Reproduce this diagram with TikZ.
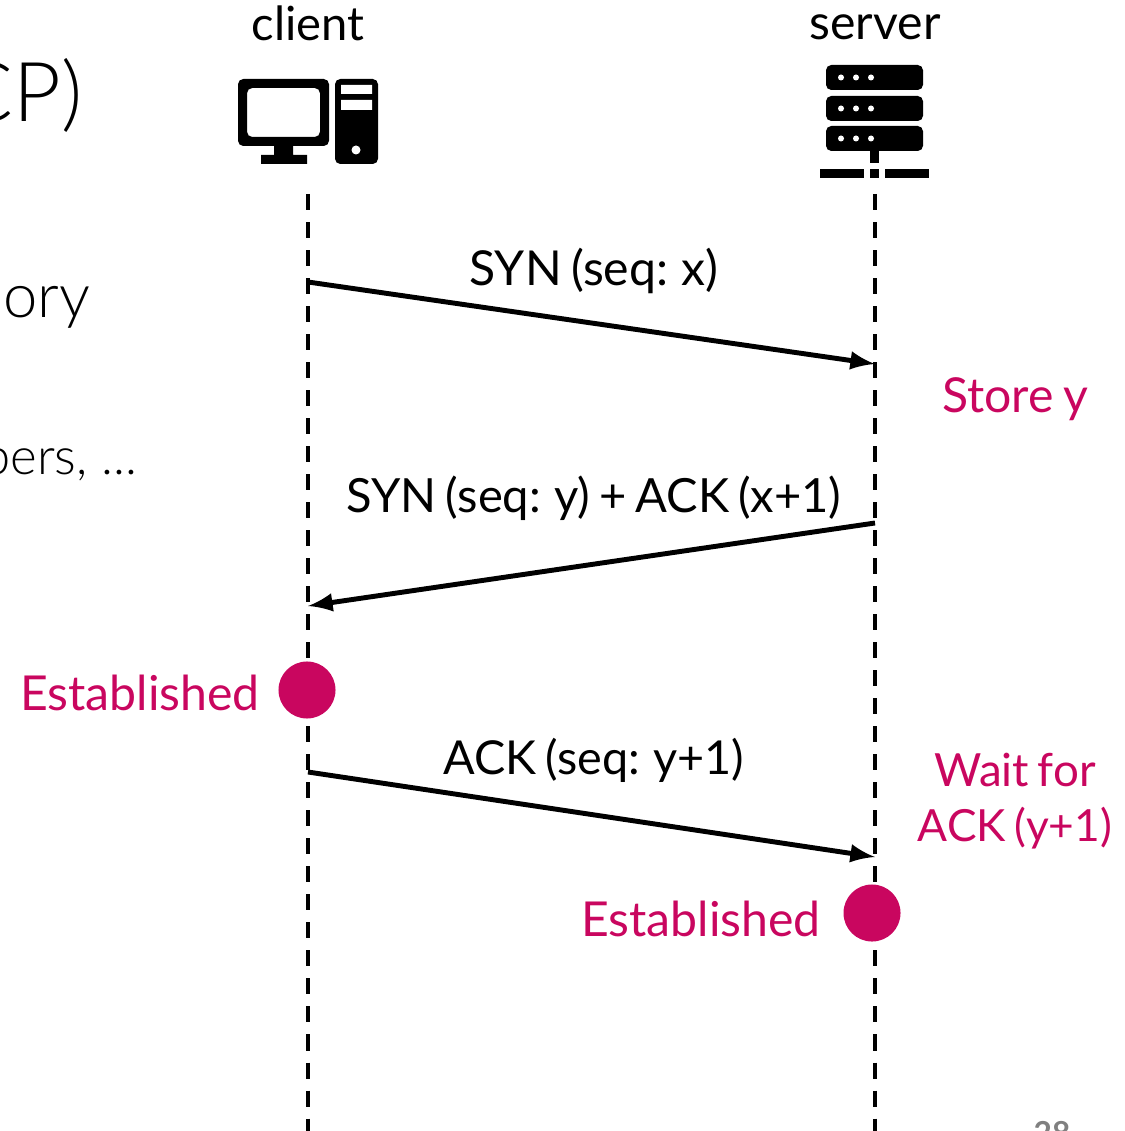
\documentclass[tikz,border=0pt]{standalone}
\usepackage{fontspec}
\setmainfont{Lato}[WordSpace=0.75]
\newfontfamily\lightfont{Lato Light}
\usetikzlibrary{arrows}
\usepackage{xcolor}
\definecolor{estpink}{HTML}{C9065F}
\newcommand{\lblsize}[1]{\fontsize{#1}{16}\selectfont}
\tikzset{
 lbl/.style={inner sep=0,anchor=base,font=\lblsize{13.7}},
 pinklbl/.style={lbl,text=estpink},
 slide/.style={inner sep=0,anchor=base east},
 lifeline/.style={black,line width=.04cm,dash pattern=on .16cm off .12cm},
 msg/.style={black,line width=1.4pt,-latex},
 dot/.style={circle,fill=estpink,minimum size=.57cm,inner sep=0},
}
\begin{document}
\begin{tikzpicture}[x=.01cm,y=-.01cm]
\clip (0,0) rectangle (1124,1131);
% cut off slide text
\node[slide,font=\lightfont\fontsize{23.5}{25}\selectfont] (title) at (83,122) {(TCP)};
\node[slide,font=\lightfont\fontsize{17.5}{19}\selectfont] (memory) at (91,318) {memory};
\node[slide,font=\lightfont\fontsize{14.5}{17}\selectfont] (numbers) at (138,475) {numbers, ...};
\node[inner sep=0,anchor=base,text=black!50,font=\bfseries\fontsize{9}{11}\selectfont] (page) at (1052,1144) {28};
% hosts
\node[lbl,font=\lblsize{13.4}] (client) at (308,41) {client};
\node[lbl] (server) at (875,40) {server};
% client icon
\fill[even odd rule,rounded corners=1.5pt] (238,79) rectangle (329,146) (247,88) rectangle (320,137);
\fill (274,146) rectangle (293,155) (261,155) rectangle (307,164);
\fill[rounded corners=1.5pt] (335,79) rectangle (378,164);
\fill[white] (341,85) rectangle (372,94) (341,100) rectangle (372,110);
\fill[white] (356,150) circle (4.5);
% server icon
\foreach \y in {65,96,126} {
 \fill[rounded corners=1.5pt] (826,\y) rectangle (923,\y+25);
 \foreach \x in {841,856,871} \fill[white] (\x,\y+12.5) circle (3);
 }
\fill (870,151) rectangle (879,163);
\foreach \x/\w in {820/44,870/9,885/44} \fill (\x,169) rectangle ++(\w,9);
% timelines
\coordinate (ctop) at (308,194);
\coordinate (cbot) at (308,1131);
\coordinate (stop) at (875,194);
\coordinate (sbot) at (875,1131);
\draw[lifeline] (ctop)--(cbot);
\draw[lifeline] (stop)--(sbot);
% messages
\coordinate (m1a) at (308,282);
\coordinate (m1b) at (875,364);
\coordinate (m2a) at (875,523);
\coordinate (m2b) at (308,606);
\coordinate (m3a) at (308,772);
\coordinate (m3b) at (875,857);
\draw[msg] (m1a)--(m1b);
\draw[msg] (m2a)--(m2b);
\draw[msg] (m3a)--(m3b);
\node[lbl] (syn) at (594,286) {SYN (seq: x)};
\node[lbl,font=\lblsize{13.4}] (synack) at (594,512) {SYN (seq: y) + ACK (x+1)};
\node[lbl,font=\lblsize{13.3}] (ack) at (594,774) {ACK (seq: y+1)};
% states
\node[dot] (cdot) at (307,690) {};
\node[dot] (sdot) at (872,913) {};
\node[pinklbl] (cest) at (140,710) {Established};
\node[pinklbl] (sest) at (701,936) {Established};
\node[pinklbl] (store) at (1015,413) {Store y};
\node[pinklbl,font=\lblsize{13}] (wait) at (1015,786) {Wait for};
\node[pinklbl,font=\lblsize{12.6}] (waitack) at (1015,841) {ACK (y+1)};
\end{tikzpicture}
\end{document}
